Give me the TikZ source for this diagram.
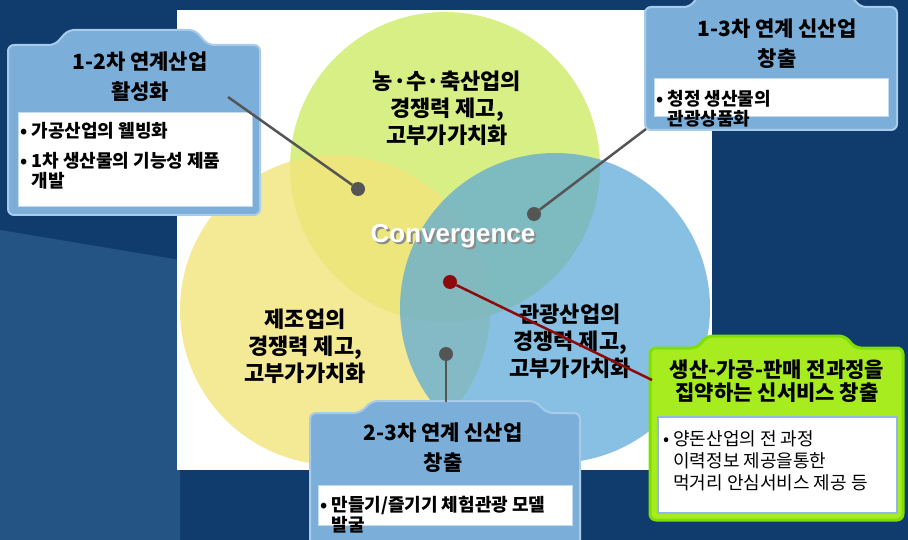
\documentclass[tikz,border=0pt]{standalone}
\usepackage{fontspec}
\usepackage{xcolor}
\newfontfamily\kr{Noto Sans CJK KR}
\newfontfamily\latin{Liberation Sans}
\usetikzlibrary{positioning}

\definecolor{navy}{HTML}{0F3C6C}
\definecolor{navylight}{HTML}{3A6C9C}
\definecolor{boxblue}{HTML}{7BAFD9}
\definecolor{boxedge}{HTML}{A8CBE9}
\definecolor{lime}{HTML}{A6EC1E}
\definecolor{limeedge}{HTML}{7FE000}
\definecolor{sheetedge}{HTML}{93B8E3}
\definecolor{leaf}{HTML}{D8EF86}
\definecolor{sun}{HTML}{F2E47A}
\definecolor{sky}{HTML}{5AA8D8}
\definecolor{hubgray}{HTML}{555555}
\definecolor{wine}{HTML}{8E0A0A}

\begin{document}
\begin{tikzpicture}[x=1pt, y=-1pt,
  title/.style={font=\kr\bfseries\fontsize{21}{30}\selectfont, align=center, inner sep=0pt},
  circlelabel/.style={font=\kr\bfseries\fontsize{22}{27}\selectfont, align=center, inner sep=0pt},
  bullets/.style={font=\kr\bfseries\fontsize{18}{20}\selectfont, align=left, anchor=north west, inner sep=0pt},
  hub/.style={circle, fill=hubgray, inner sep=0pt, minimum size=14pt},
  panel/.style={fill=boxblue, draw=boxedge, line width=2pt, rounded corners=6pt},
  sheet/.style={fill=white, draw=boxedge!70, line width=1pt},
  link/.style={draw=hubgray, line width=2.5pt}]
    \useasboundingbox (0,0) rectangle (908,540);
    % background
    \fill[navy] (0,0) rectangle (908,540);
    \fill[navylight, opacity=0.5] (0,230) -- (180,260) -- (180,540) -- (0,540) -- cycle;
    \fill[white] (177,10) rectangle (712,470);

    % three circles
    \begin{scope}
        \clip (177,10) rectangle (712,470);
        \fill[leaf] (445,167) circle (155);
        \fill[sun, opacity=0.8] (335,310) circle (155);
        \fill[sky, opacity=0.72] (555,308) circle (155);
    \end{scope}

    \node[circlelabel] (agri) at (447,108) {농·수·축산업의\\경쟁력 제고,\\고부가가치화};
    \node[circlelabel] (manu) at (305,346) {제조업의\\경쟁력 제고,\\고부가가치화};
    \node[circlelabel] (tour) at (570,341) {관광산업의\\경쟁력 제고,\\고부가가치화};
    \node[font=\latin\bfseries\fontsize{26}{26}\selectfont, text=black!45] (convshadow) at (455,238) {Convergence};
    \node[font=\latin\bfseries\fontsize{26}{26}\selectfont, text=white] (conv) at (453,236) {Convergence};

    % box 1-2
    \path[panel] (8,45) -- (55,45) -- (68,30) -- (195,30) -- (208,45) -- (260,45) -- (260,215) -- (8,215) -- cycle;
    \fill[sheet] (18,113) rectangle (252,207);
    \node[title] (boxA) at (140,77) {1-2차 연계산업\\활성화};
    \node[bullets] (listA) at (20,122) {• 가공산업의 웰빙화\\[10pt]• 1차 생산물의 기능성 제품\\\phantom{• }개발};

    % box 1-3
    \path[panel] (645,7) -- (690,7) -- (700,-6) -- (850,-6) -- (860,7) -- (897,7) -- (897,130) -- (645,130) -- cycle;
    \fill[sheet] (654,79) rectangle (888,117);
    \node[title] (boxB) at (777,44) {1-3차 연계 신산업\\창출};
    \node[bullets] (listB) at (656,90) {• 청정 생산물의\\\phantom{• }관광상품화};

    % box 2-3
    \path[panel] (310,413) -- (360,413) -- (372,401) -- (535,401) -- (547,413) -- (580,413) -- (580,548) -- (310,548) -- cycle;
    \fill[sheet] (318,485) rectangle (572,525);
    \node[title] (boxC) at (443,448) {2-3차 연계 신산업\\창출};
    \node[bullets] (listC) at (320,496) {• 만들기/즐기기 체험관광 모델\\\phantom{• }발굴};

    % box service
    \path[fill=lime, draw=limeedge, line width=3pt, rounded corners=6pt] (650,348) -- (697,348) -- (707,336) -- (845,336) -- (855,348) -- (903,348) -- (903,520) -- (650,520) -- cycle;
    \fill[white, draw=sheetedge, line width=2.5pt] (658,417) rectangle (897,513);
    \node[title, font=\kr\bfseries\fontsize{21}{23}\selectfont] (boxD) at (777,381) {생산-가공-판매 전과정을\\집약하는 신서비스 창출};
    \node[bullets, font=\kr\fontsize{18}{22}\selectfont] (listD) at (663,430) {• 양돈산업의 전 과정\\\phantom{• }이력정보 제공을통한\\\phantom{• }먹거리 안심서비스 제공 등};

    % hubs and links
    \node[hub] (hubA) at (358,189) {};
    \node[hub] (hubB) at (534,214) {};
    \node[hub] (hubC) at (446,354) {};
    \node[hub, fill=wine] (hubD) at (450,282) {};
    \coordinate (endA) at (228,97);
    \coordinate (endB) at (646,129);
    \coordinate (endC) at (446,402);
    \coordinate (endD) at (652,380);
    \draw[link] (endA) -- (hubA);
    \draw[link] (endB) -- (hubB);
    \draw[link] (endC) -- (hubC);
    \draw[link, draw=wine] (endD) -- (hubD);
\end{tikzpicture}
\end{document}
